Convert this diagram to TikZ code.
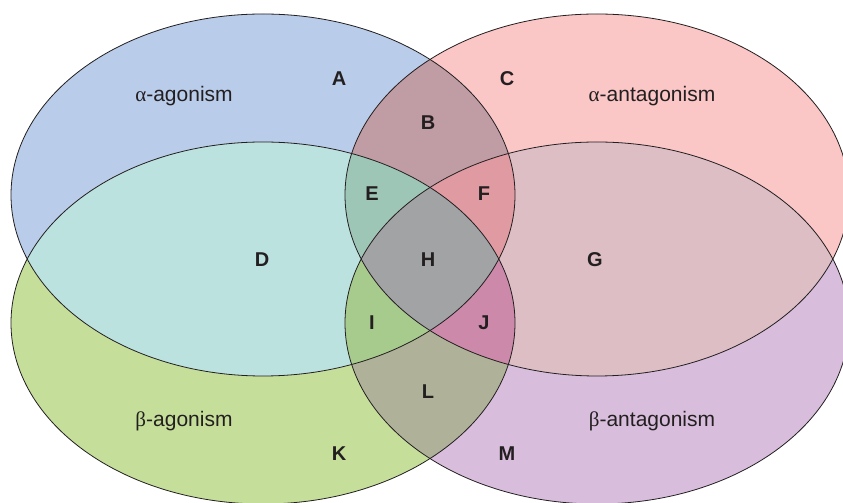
\documentclass[tikz,border=0pt]{standalone}
\usepackage{fontspec}
\setmainfont{Liberation Sans}
\newfontfamily\greekfont{Liberation Serif}

% fill colours, one per region
\definecolor{regA}{HTML}{B9CCE9}
\definecolor{regC}{HTML}{FAC6C6}
\definecolor{regK}{HTML}{C5DF9B}
\definecolor{regM}{HTML}{D8BEDC}
\definecolor{regB}{HTML}{C09CA4}
\definecolor{regD}{HTML}{BCE2DF}
\definecolor{regG}{HTML}{DCBEC4}
\definecolor{regL}{HTML}{AFB298}
\definecolor{regE}{HTML}{9EC6B7}
\definecolor{regF}{HTML}{E09AA2}
\definecolor{regI}{HTML}{A7CB8D}
\definecolor{regJ}{HTML}{CD89AA}
\definecolor{regH}{HTML}{A2A3A5}
\definecolor{ink}{HTML}{231F20}

% the four sets
\newcommand{\aAgon}{(263,308) ellipse [x radius=252, y radius=181]}
\newcommand{\aAnta}{(597,308) ellipse [x radius=252, y radius=181]}
\newcommand{\bAgon}{(263,180) ellipse [x radius=252, y radius=181]}
\newcommand{\bAnta}{(597,180) ellipse [x radius=252, y radius=181]}

\begin{document}
\begin{tikzpicture}[x=1pt,y=1pt,
  region/.style={font=\fontsize{20}{24}\selectfont\bfseries, text=ink},
  setname/.style={font=\fontsize{21}{25}\selectfont, text=ink},
  rim/.style={draw=ink, line width=0.8pt}]
  \useasboundingbox (0,0) rectangle (843,503);

  % single sets
  \fill[regA] \aAgon;
  \fill[regC] \aAnta;
  \fill[regK] \bAgon;
  \fill[regM] \bAnta;

  % two sets
  \begin{scope}
    \clip \aAgon;
    \fill[regB] \aAnta;
    \fill[regD] \bAgon;
  \end{scope}
  \begin{scope}
    \clip \bAnta;
    \fill[regG] \aAnta;
    \fill[regL] \bAgon;
  \end{scope}

  % three sets
  \begin{scope}
    \clip \aAgon; \clip \bAgon;
    \fill[regE] \aAnta;
    \fill[regI] \bAnta;
  \end{scope}
  \begin{scope}
    \clip \aAnta; \clip \bAnta;
    \fill[regF] \aAgon;
    \fill[regJ] \bAgon;
  \end{scope}

  % all four
  \begin{scope}
    \clip \aAgon; \clip \aAnta; \clip \bAgon;
    \fill[regH] \bAnta;
  \end{scope}

  % outlines
  \draw[rim] \aAgon;
  \draw[rim] \aAnta;
  \draw[rim] \bAgon;
  \draw[rim] \bAnta;

  % set names
  \node[setname] (aagon) at (184,407) {{\greekfont α}-agonism};
  \node[setname] (aanta) at (652,407) {{\greekfont α}-antagonism};
  \node[setname] (bagon) at (184,82) {{\greekfont β}-agonism};
  \node[setname] (banta) at (652,82) {{\greekfont β}-antagonism};

  % region letters
  \node[region] (A) at (339,424) {A};
  \node[region] (C) at (507,424) {C};
  \node[region] (B) at (428,380) {B};
  \node[region] (E) at (372,309) {E};
  \node[region] (F) at (484,309) {F};
  \node[region] (D) at (262,243) {D};
  \node[region] (H) at (428,243) {H};
  \node[region] (G) at (595,243) {G};
  \node[region] (I) at (372,180) {I};
  \node[region] (J) at (484,180) {J};
  \node[region] (L) at (428,111) {L};
  \node[region] (K) at (339,49) {K};
  \node[region] (M) at (507,49) {M};
\end{tikzpicture}
\end{document}
